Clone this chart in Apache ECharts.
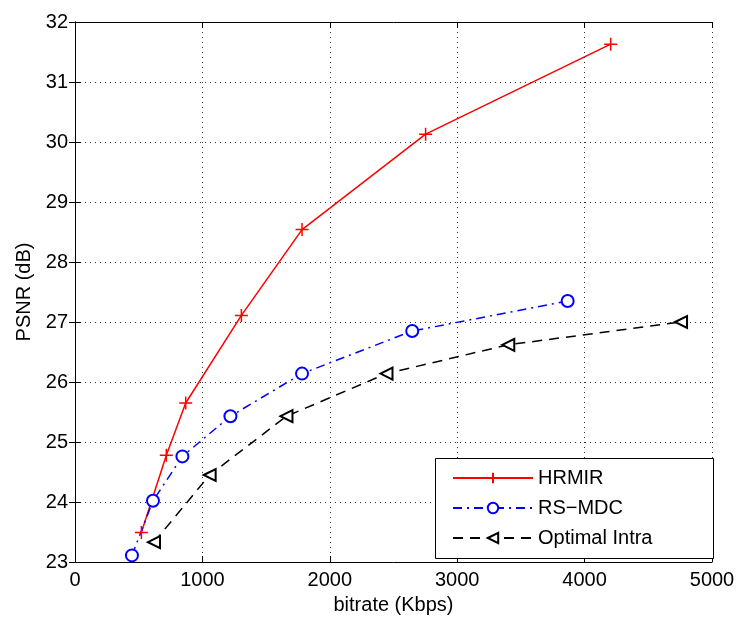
<!DOCTYPE html>
<html><head><meta charset="utf-8">
<script src="https://cdn.jsdelivr.net/npm/echarts@6/dist/echarts.min.js"></script>
<style>html,body{margin:0;padding:0;background:#fff}#c{width:740px;height:621px}</style>
</head><body><div id="c"></div>
<script>
var hrmirX = [521, 717, 869, 1306, 1782, 2752, 4205];
var hrmirY = [23.49, 24.78, 25.65, 27.11, 28.54, 30.13, 31.63];
var rsX = [447, 612, 843, 1220, 1782, 2647, 3867];
var rsY = [23.11, 24.02, 24.76, 25.43, 26.14, 26.85, 27.35];
var optX = [620, 1057, 1660, 2445, 3401, 4757];
var optY = [23.33, 24.45, 25.43, 26.14, 26.62, 27.0];
var seriesNames = ['HRMIR', 'RS\u2212MDC', 'Optimal Intra'];

function pairs(xs, ys){ return xs.map(function(x,i){return [x, ys[i]];}); }
var font = 'Liberation Sans, Arial, sans-serif';
var chart = echarts.init(document.getElementById('c'), null, {renderer:'canvas'});
var axisLineS = {show:true, lineStyle:{color:'#000', width:1}};
var tickS = {show:true, inside:true, length:6, lineStyle:{color:'#000'}};
chart.setOption({
  animation:false,
  backgroundColor:'#fff',
  grid:{left:75, right:28, top:22, bottom:59, show:false},
  graphic:[{
    type:'rect', left:435, top:458, z:50,
    shape:{width:278, height:100},
    style:{fill:'#fff', stroke:'#000', lineWidth:1}
  }],
  legend:{
    left:452, top:468, orient:'vertical', itemWidth:80, itemHeight:13, itemGap:10,
    padding:0, z:60,
    textStyle:{fontFamily:font, fontSize:20, color:'#000'},
    data:seriesNames
  },
  xAxis:[{
    type:'value', min:0, max:5000, interval:1000, position:'bottom',
    name:'bitrate (Kbps)', nameLocation:'middle', nameGap:33,
    nameTextStyle:{fontFamily:font, fontSize:20, color:'#000'},
    axisLine:axisLineS, axisTick:tickS,
    axisLabel:{fontFamily:font, fontSize:20, color:'#000', margin:8,
      formatter:function(v){return String(v);}},
    splitLine:{show:true, lineStyle:{color:'#333', type:[1,4], width:1}}
  },{
    type:'value', min:0, max:5000, interval:1000, position:'top',
    axisLine:axisLineS, axisTick:tickS, axisLabel:{show:false}, splitLine:{show:false}
  }],
  yAxis:[{
    type:'value', min:23, max:32, interval:1, position:'left',
    name:'PSNR (dB)', nameLocation:'middle', nameGap:38,
    nameTextStyle:{fontFamily:font, fontSize:20, color:'#000'},
    axisLine:axisLineS, axisTick:tickS,
    axisLabel:{fontFamily:font, fontSize:20, color:'#000', margin:7},
    splitLine:{show:true, lineStyle:{color:'#333', type:[1,4], width:1}}
  },{
    type:'value', min:23, max:32, interval:1, position:'right',
    axisLine:axisLineS, axisTick:tickS, axisLabel:{show:false}, splitLine:{show:false}
  }],
  series:[{
    name:seriesNames[0], type:'line', data:pairs(hrmirX, hrmirY),
    symbol:'path://M5,0L5,10M0,5L10,5', symbolSize:13,
    lineStyle:{color:'#ff0000', width:1.5},
    itemStyle:{color:'#ff0000', borderColor:'#ff0000', borderWidth:1.5}
  },{
    name:seriesNames[1], type:'line', data:pairs(rsX, rsY),
    symbol:'emptyCircle', symbolSize:12,
    lineStyle:{color:'#0000ff', width:1.5, type:[9,5,2,5]},
    itemStyle:{color:'#0000ff', borderColor:'#0000ff', borderWidth:1.5}
  },{
    name:seriesNames[2], type:'line', data:pairs(optX, optY),
    symbol:'emptyTriangle', symbolSize:12, symbolRotate:90,
    lineStyle:{color:'#000', width:1.5, type:[10,7]},
    itemStyle:{color:'#000', borderColor:'#000', borderWidth:1.5}
  }]
});
</script></body></html>
